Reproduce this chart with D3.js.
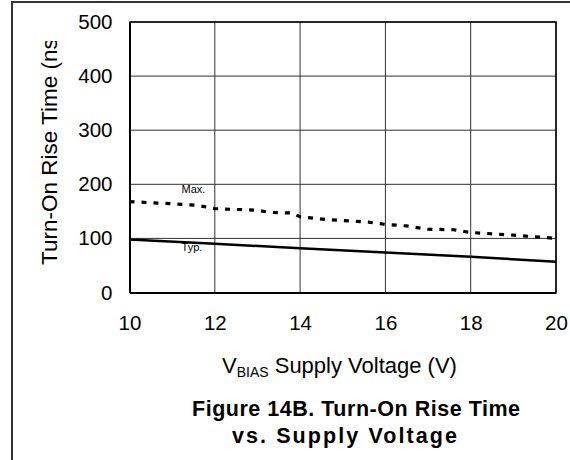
<!DOCTYPE html>
<html><head><meta charset="utf-8">
<script src="https://cdn.jsdelivr.net/npm/d3@7"></script>
<style>
body{margin:0;background:#fff}
svg{display:block;font-family:"Liberation Sans",Arial,sans-serif}
</style>
</head><body>
<svg id="c" width="570" height="460"></svg>
<script>
const xTicks = [10, 12, 14, 16, 18, 20];
const yTicks = [0, 100, 200, 300, 400, 500];
const typVolt = [10, 12, 14, 16, 18, 20];
const typRise = [98, 90, 82, 74, 66, 57];
const maxVolt = [10, 11, 11.6, 12, 13, 13.3, 13.8, 14, 14.6, 15, 15.6, 16, 16.5, 17, 17.6, 18, 18.6, 19, 19.5, 20];
const maxRise = [168, 164, 161, 155, 152, 148, 147, 140, 135, 133, 130, 126, 123, 117, 116, 111, 108, 106, 103, 100];
const seriesLabels = ["Max.", "Typ."];
const yTitle = "Turn-On Rise Time (ns)";
const titleLines = ["Figure 14B. Turn-On Rise Time", "vs. Supply Voltage"];

const svg = d3.select("#c");
const L = 129.5, R = 556, T = 22, B = 292.5;
const x = d3.scaleLinear().domain([10, 20]).range([L, R]);
const y = d3.scaleLinear().domain([0, 500]).range([B, T]);

// outer frame
svg.append("path").attr("d", "M12,460V2H570").attr("fill", "none").attr("stroke", "#333").attr("stroke-width", 2);

// grid
const g = svg.append("g");
g.selectAll(".vg").data(xTicks).join("line")
  .attr("x1", d => x(d)).attr("x2", d => x(d)).attr("y1", T).attr("y2", B)
  .attr("stroke", "#333").attr("stroke-width", 1);
g.selectAll(".hg").data(yTicks).join("line")
  .attr("x1", L).attr("x2", R).attr("y1", d => y(d)).attr("y2", d => y(d))
  .attr("stroke", "#333").attr("stroke-width", 1);

// series label under the typ line (line drawn over it)
svg.append("text").attr("x", x(11.22)).attr("y", y(77)).attr("font-size", 11).text(seriesLabels[1]);

// axes
const xAxis = svg.append("g").attr("transform", `translate(0,${B})`)
  .call(d3.axisBottom(x).tickValues(xTicks).tickSize(0).tickPadding(23).tickFormat(d3.format("d")));
const yAxis = svg.append("g").attr("transform", `translate(${L},0)`)
  .call(d3.axisLeft(y).tickValues(yTicks).tickSize(0).tickPadding(17).tickFormat(d3.format("d")));
[xAxis, yAxis].forEach(a => {
  a.select(".domain").attr("stroke", "#000").attr("stroke-width", 2);
  a.selectAll("text").attr("font-size", 20.5).attr("fill", "#000").attr("font-family", '"Liberation Sans",Arial,sans-serif');
});
// top and right border
svg.append("path").attr("d", `M${L},${T}H${R}V${B}`).attr("fill", "none").attr("stroke", "#000").attr("stroke-width", 1.5);

// lines
const line = d3.line().x(d => x(d[0])).y(d => y(d[1]));
svg.append("path").datum(typVolt.map((v, i) => [v, typRise[i]]))
  .attr("d", line).attr("fill", "none").attr("stroke", "#000").attr("stroke-width", 2.5);
svg.append("path").datum(maxVolt.map((v, i) => [v, maxRise[i]]))
  .attr("d", line).attr("fill", "none").attr("stroke", "#000").attr("stroke-width", 3.2)
  .attr("stroke-dasharray", "5,7");

svg.append("text").attr("x", x(11.22)).attr("y", y(183)).attr("font-size", 11).text(seriesLabels[0]);

// y title (clipped at top like the reference)
svg.append("clipPath").attr("id", "yc").append("rect").attr("x", 0).attr("y", 41).attr("width", 120).attr("height", 419);
svg.append("g").attr("clip-path", "url(#yc)").append("text")
  .attr("transform", "translate(57,265) rotate(-90)")
  .attr("font-size", 22.5).attr("text-anchor", "start").text(yTitle);

// x title with subscript
const xt = svg.append("text").attr("x", 222).attr("y", 373).attr("font-size", 22);
xt.append("tspan").text("V");
xt.append("tspan").attr("dy", 4).attr("font-size", 14).text("BIAS");
xt.append("tspan").attr("dy", -4).text(" Supply Voltage (V)");

// figure caption
svg.append("text").attr("x", 192).attr("y", 416)
  .attr("textLength", 328).attr("lengthAdjust", "spacing")
  .attr("font-size", 21.5).attr("font-weight", "bold").text(titleLines[0]);
svg.append("text").attr("x", 232).attr("y", 443)
  .attr("textLength", 225).attr("lengthAdjust", "spacing")
  .attr("font-size", 21.5).attr("font-weight", "bold").text(titleLines[1]);
</script>
</body></html>
